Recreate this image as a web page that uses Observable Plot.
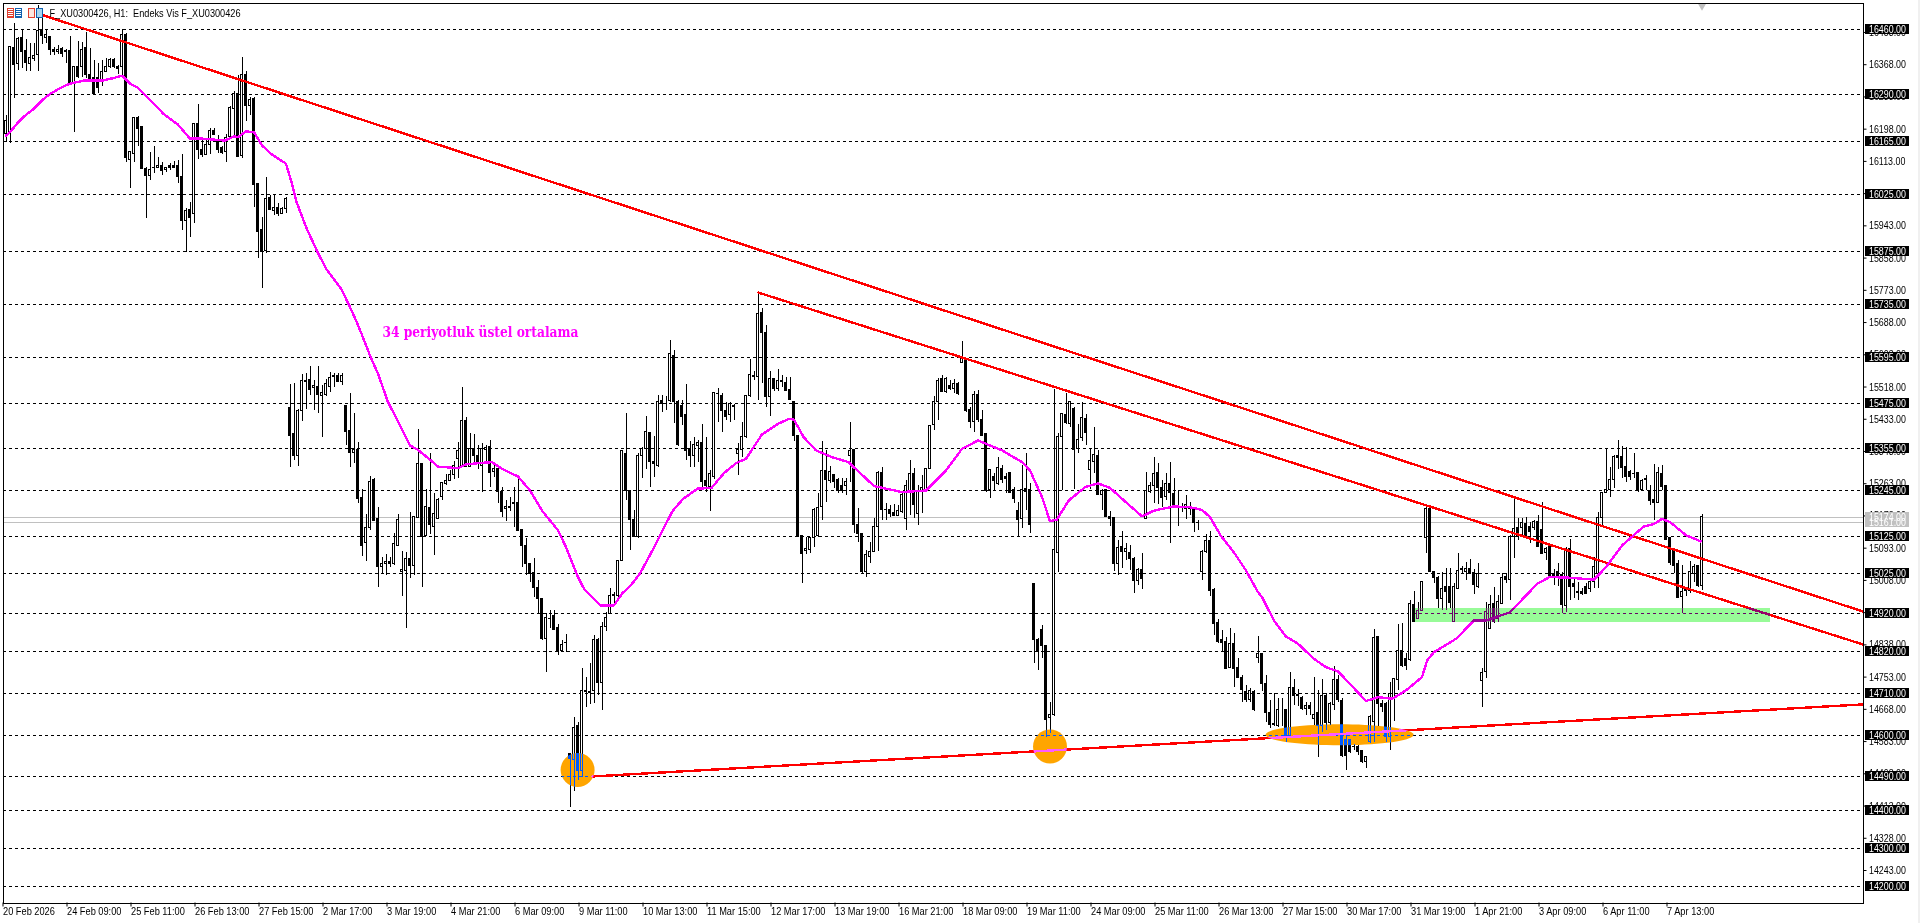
<!DOCTYPE html>
<html><head><meta charset="utf-8">
<script src="https://cdn.jsdelivr.net/npm/d3@7"></script>
<script src="https://cdn.jsdelivr.net/npm/@observablehq/plot@0.6"></script>
<style>
html,body{margin:0;padding:0;background:#f0f0f0;overflow:hidden}
#chart{position:relative;width:1918px;height:923px}
#chart svg{display:block}
.ico{position:absolute;top:8px;height:10px;box-sizing:border-box}
</style></head><body>
<div id="chart">
<div class="ico" style="left:7px;width:7px;border:1px solid #e04030;background:repeating-linear-gradient(#fff 0 1px,#e04030 1px 2px)"></div>
<div class="ico" style="left:15px;width:7px;border:1px solid #1060b0;background:repeating-linear-gradient(#fff 0 1px,#1060b0 1px 2px)"></div>
<div class="ico" style="left:28px;width:7px;border:1px solid #e04030;background:#fde8e0"></div>
<div class="ico" style="left:36px;width:7px;border:1px solid #1060b0;background:#a8d8f0"></div>
</div>
<script>
// Each bar is [open, high, low, close]
const barsA = [
[16186,16234,16164,16219],[16186,16416,16161,16414],[16412,16476,16280,16366],[16370,16439,16353,16436],[16439,16460,16357,16401],
[16405,16434,16351,16372],[16370,16423,16351,16386],[16384,16423,16377,16392],[16394,16525,16351,16456],[16458,16490,16420,16444],
[16439,16458,16423,16445],[16441,16442,16392,16408],[16408,16414,16392,16401],[16401,16419,16395,16407],[16410,16414,16388,16397],
[16405,16407,16372,16401],[16403,16442,16318,16318],[16318,16363,16190,16363],[16363,16430,16331,16335],[16362,16427,16335,16407],
[16412,16454,16331,16340],[16342,16410,16326,16330],[16333,16379,16291,16291],[16333,16370,16293,16307],[16325,16379,16311,16349],
[16349,16384,16349,16363],[16362,16384,16357,16381],[16381,16384,16357,16362],[16363,16366,16342,16357],[16363,16460,16340,16445],
[16445,16451,16111,16122],[16116,16137,16041,16137],[16133,16230,16111,16228],[16228,16231,16151,16199],[16203,16203,16093,16093],
[16092,16098,15962,16074],[16074,16137,16063,16089],[16095,16152,16080,16096],[16095,16124,16093,16100],[16102,16111,16076,16087],
[16089,16098,16085,16096],[16102,16108,16089,16095],[16102,16114,16093,16095],[16100,16115,16056,16071],[16073,16131,15931,15955],
[15957,15988,15874,15982],[15985,16005,15913,15964],[15973,16212,15950,16212],[16212,16263,16117,16142],[16144,16170,16122,16131],
[16131,16168,16131,16155],[16155,16199,16131,16193],[16193,16201,16181,16183],[16170,16181,16133,16144],[16148,16151,16131,16135],
[16137,16184,16111,16175],[16177,16258,16177,16253],[16250,16296,16177,16291],[16291,16339,16122,16124],[16127,16386,16120,16340],
[16342,16351,16217,16260],[16258,16282,16234,16275],[16278,16282,15992,16050],[16054,16054,15856,15926],[15931,15966,15777,15874],
[15878,16071,15869,16014],[16017,16023,15983,15985],[15982,16023,15970,15991],[15991,16003,15968,15973],[15975,15992,15973,15988],
[15988,16019,15975,16014]];
const barsB = [
[15463,15525,15307,15390],[15393,15526,15324,15335],[15335,15460,15308,15456],[15456,15551,15428,15533],[15535,15553,15460,15531],
[15537,15572,15495,15510],[15516,15535,15456,15522],[15519,15572,15449,15498],[15494,15522,15384,15503],[15498,15537,15494,15525],
[15519,15557,15504,15542],[15546,15554,15518,15544],[15547,15553,15529,15531],[15531,15553,15522,15548],[15467,15467,15364,15399],
[15401,15500,15305,15344],[15344,15449,15315,15351],[15351,15372,15210,15223],[15226,15247,15071,15100],[15107,15182,15059,15147],
[15147,15282,15140,15267],[15273,15276,15164,15164],[15170,15201,14990,15043],[15043,15069,15025,15052],[15050,15076,15021,15056],
[15056,15069,15041,15050],[15050,15131,15047,15103],[15100,15182,15097,15166],[15030,15084,14966,15036],[15034,15082,14880,15065],
[15065,15188,15012,15047],[15047,15176,15021,15176],[15173,15406,15170,15315],[15315,15315,14990,15122],[15126,15249,15124,15201],
[15199,15344,15129,15155],[15150,15236,15074,15182],[15170,15223,15168,15220],[15227,15267,15219,15264],[15261,15287,15258,15270],
[15271,15298,15270,15285],[15285,15322,15273,15311],[15329,15372,15276,15349],[15307,15516,15307,15428],[15428,15438,15307,15307],
[15307,15396,15305,15355],[15355,15393,15315,15337],[15337,15364,15300,15320],[15311,15368,15241,15355],[15353,15364,15315,15357],
[15359,15377,15254,15291],[15294,15320,15280,15302],[15302,15302,15212,15241],[15242,15254,15175,15188],[15196,15219,15164,15201],
[15201,15226,15190,15200],[15212,15252,15148,15210],[15212,15285,15138,15138],[15140,15140,15043,15100],[15100,15118,15021,15052],
[15052,15052,15003,15025],[15028,15065,14964,14988],[14988,15008,14920,14959],[14959,14959,14850,14854],[14854,14920,14766,14909],
[14907,14929,14880,14906],[14913,14929,14876,14878],[14883,14892,14810,14823],[14823,14850,14819,14838],[14844,14865,14819,14842]];
const barsC = [
[14551,14551,14410,14536],[14535,14647,14452,14619],[14623,14634,14480,14505],[14505,14777,14489,14716],[14717,14751,14672,14715],
[14713,14788,14682,14712],[14716,14863,14684,14851],[14851,14854,14704,14737],[14737,14896,14665,14885],[14885,14924,14874,14909],
[14920,14986,14918,14968],[14970,14977,14940,14967],[14968,15059,14955,15059],[15059,15350,15059,15350],[15342,15449,15219,15243],
[15243,15243,15087,15166],[15168,15192,15122,15122],[15122,15342,15118,15337],[15336,15359,15276,15355],[15355,15440,15300,15399],
[15397,15397,15254,15320],[15320,15388,15280,15316],[15311,15496,15307,15478],[15481,15496,15452,15474],[15485,15493,15456,15485],
[15481,15641,15478,15606],[15599,15614,15421,15478],[15478,15483,15360,15364],[15467,15483,15417,15440],[15443,15525,15324,15349],
[15351,15375,15307,15337],[15337,15386,15307,15364],[15362,15377,15320,15370],[15371,15419,15245,15267],[15269,15386,15241,15256],
[15254,15298,15191,15289],[15280,15503,15275,15503],[15500,15513,15425,15499],[15493,15500,15399,15454],[15456,15478,15430,15440],
[15443,15478,15425,15472],[15469,15472,15430,15465],[15342,15368,15285,15351],[15351,15425,15333,15386],[15386,15493,15381,15493],
[15493,15590,15491,15550],[15548,15560,15535,15544],[15544,15766,15483,15711],[15714,15724,15527,15660],[15661,15680,15465,15491],
[15491,15560,15439,15540],[15540,15540,15505,15513],[15513,15563,15505,15535],[15533,15548,15518,15532],[15529,15544,15505,15507],
[15511,15544,15483,15484],[15478,15478,15375,15388],[15388,15388,15122,15126],[15126,15126,15001,15078],[15085,15122,15076,15091],
[15087,15122,15078,15120],[15120,15197,15096,15195],[15124,15236,15122,15199],[15201,15375,15166,15296],[15296,15351,15214,15272],
[15270,15309,15263,15294],[15285,15285,15250,15267],[15273,15276,15236,15245],[15258,15276,15236,15245],[15256,15276,15232,15267]];
const barsD = [
[15335,15425,15267,15349],[15351,15351,15131,15153],[15155,15197,15109,15131],[15131,15131,15025,15030],[15030,15087,15015,15074],
[15071,15109,15052,15083],[15083,15170,15083,15150],[15148,15294,15083,15292],[15292,15307,15166,15194],[15194,15210,15166,15193],
[15194,15206,15175,15184],[15186,15208,15179,15179],[15179,15206,15177,15192],[15188,15236,15184,15232],[15170,15272,15140,15256],
[15241,15324,15179,15289],[15289,15302,15170,15208],[15182,15258,15153,15243],[15243,15285,15184,15252],[15243,15302,15241,15302],
[15302,15417,15302,15415],[15417,15494,15403,15478],[15478,15540,15430,15535],[15540,15548,15503,15505],[15505,15544,15500,15540],
[15522,15535,15509,15513],[15513,15537,15500,15525],[15525,15531,15496,15500],[15581,15639,15579,15592],[15592,15592,15452,15456],
[15458,15465,15408,15425],[15425,15506,15399,15496],[15497,15509,15425,15430],[15432,15456,15390,15390],[15393,15395,15241,15243],
[15247,15300,15223,15300],[15280,15290,15245,15270],[15263,15333,15258,15305],[15302,15311,15263,15272],[15280,15289,15236,15276],
[15291,15291,15237,15239],[15247,15254,15210,15223],[15190,15214,15120,15166],[15171,15311,15144,15247],[15250,15342,15192,15241],
[15247,15263,15131,15153],[14999,14999,14790,14850],[14850,14855,14770,14820],[14878,14889,14801,14836],[14836,14836,14595,14639],
[14646,14687,14603,14654],[14652,15512,14648,15087],[15080,15395,15030,15386],[15386,15449,15245,15446],[15443,15501,15420,15423],
[15421,15481,15412,15478],[15461,15463,15249,15351],[15355,15418,15342,15379],[15384,15476,15375,15435],[15434,15445,15364,15397],
[15300,15355,15249,15322],[15320,15410,15289,15339],[15337,15351,15232,15232],[15234,15247,15192,15245],[15247,15247,15173,15175],
[15175,15190,15150,15170],[15173,15175,15032,15052],[15052,15113,15021,15094],[15096,15138,15039,15083],[15083,15106,15061,15091],
[15080,15100,15034,15065],[15065,15069,14973,15006],[15006,15039,14995,15036],[15036,15080,14983,15012]];
const barsE = [
[15170,15293,15168,15243],[15241,15267,15237,15258],[15258,15333,15210,15289],[15292,15315,15208,15252],[15252,15271,15201,15226],
[15228,15289,15219,15263],[15263,15320,15106,15238],[15235,15276,15201,15206],[15202,15245,15150,15201],[15202,15210,15188,15201],
[15197,15232,15168,15206],[15201,15214,15179,15197],[15197,15201,15135,15159],[15160,15166,15140,15159],[15030,15087,15008,15084],
[15082,15129,15080,15111],[15113,15137,14966,14980],[14983,14986,14863,14892],[14895,14904,14841,14845],[14850,14876,14819,14843],
[14845,14858,14775,14775],[14777,14880,14775,14841],[14841,14867,14725,14775],[14778,14801,14751,14751],[14751,14757,14687,14718],
[14713,14731,14687,14693],[14693,14722,14687,14716],[14715,14718,14661,14665],[14804,14860,14788,14814],[14814,14816,14716,14735],
[14735,14757,14634,14659],[14659,14691,14617,14628],[14630,14711,14623,14628],[14625,14696,14621,14667],[14667,14696,14623,14667],
[14665,14665,14581,14599],[14599,14766,14599,14725],[14725,14746,14678,14702],[14706,14720,14676,14703],[14698,14702,14665,14668],
[14668,14687,14652,14678],[14678,14687,14652,14668],[14643,14751,14625,14654],[14659,14718,14540,14625],[14625,14746,14608,14702],
[14704,14709,14612,14632],[14632,14687,14625,14681],[14679,14782,14665,14746],[14746,14757,14687,14693],[14691,14696,14540,14546],
[14586,14600,14507,14546],[14586,14586,14551,14555],[14570,14575,14560,14569],[14570,14573,14546,14555],[14558,14560,14526,14529],
[14529,14542,14511,14542],[14582,14652,14577,14647],[14634,14878,14580,14857],[14858,14860,14623,14683],[14683,14690,14660,14675],
[14682,14687,14581,14595],[14595,14740,14560,14709],[14696,14749,14637,14749],[14746,14893,14718,14821],[14823,14895,14779,14781],
[14801,14815,14770,14781],[14797,14955,14795,14945],[14942,14978,14898,14898],[14907,14950,14905,14927],[14927,15003,14925,15003]];
const barsF = [
[15120,15201,15078,15197],[15197,15201,15030,15030],[15030,15030,15000,15015],[15015,15017,14933,14959],[14959,15030,14929,14986],
[14990,15040,14929,14977],[14990,15040,14933,14948],[14898,14999,14898,14990],[14986,15078,14986,15034],[15035,15045,15024,15037],
[15030,15056,15008,15039],[15039,15062,15024,15025],[15027,15036,14971,14997],[14990,15052,14986,15025],[14742,14775,14674,14763],
[14766,14950,14749,14924],[14880,14968,14880,14942],[14946,14990,14895,14898],[14907,14968,14898,14951],[14946,15025,14946,15015],
[15017,15027,14999,15008],[15008,15126,14955,15122],[15122,15226,15065,15144],[15147,15170,15113,15122],[15147,15170,15122,15159],
[15157,15173,15120,15122],[15150,15162,15105,15135],[15147,15166,15140,15162],[15163,15179,15096,15096],[15140,15214,15076,15078],
[15080,15096,15060,15091],[15100,15100,15012,15017],[15025,15038,14995,15017],[15030,15052,14992,15017],[15021,15030,14920,14942],
[14940,15096,14924,15091],[15091,15115,14955,14990],[14999,15010,14960,14990],[14977,15003,14955,14976],[14977,14986,14968,14971],
[14990,14999,14971,14973],[14986,15008,14977,15003],[15003,15069,14986,15043],[15024,15188,14986,15173],[15173,15241,15150,15238],
[15238,15355,15236,15247],[15247,15307,15226,15273],[15273,15337,15250,15333],[15337,15377,15300,15332],[15333,15361,15276,15305],
[15308,15359,15265,15280],[15293,15298,15272,15280],[15289,15342,15276,15288],[15291,15293,15241,15247],[15247,15273,15243,15271],
[15272,15285,15245,15276],[15245,15258,15206,15217],[15219,15314,15166,15212],[15212,15305,15210,15291],[15289,15311,15245,15254],
[15256,15258,15113,15115],[15120,15122,15047,15054],[15087,15091,15025,15047],[15050,15060,14959,14962],[14964,15047,14920,14977],
[14985,14990,14966,14980],[14981,15059,14973,15030],[15025,15050,15003,15043],[15045,15047,14990,14993],[14993,15182,14981,15174]];

// 34-period exponential average: [bar, value]
const emaLine = [
[0,16181],[1,16190],[3,16216],[5,16236],[7,16252],[9,16274],[11,16291],[14,16309],[16,16318],[19.5,16326],[24,16326],[27,16333],[29,16339],[31,16318],[33,16307],[37,16265],[39.4,16238],[43,16210],[46,16173],[49,16173],[54.7,16168],[57,16179],[58,16177],[60,16192],[62,16190],[64,16155],[66.5,16131],[70,16107],[71.5,16054],[72.5,16010],[75,15940],[77.7,15878],[80,15830],[83.8,15777],[85.8,15733],[87.5,15694],[88.9,15658],[91,15601],[93,15553],[95.5,15478],[97.5,15438],[101,15364],[103,15352],[105.7,15329],[108,15308],[113,15304],[115,15314],[118,15317],[121.5,15320],[124,15302],[128,15282],[131,15245],[134,15192],[138,15140],[140,15096],[143,15017],[144.5,14986],[148.6,14942],[152,14942],[154,14973],[156.5,14999],[158.6,15028],[161.6,15087],[163.7,15131],[166.7,15192],[169.3,15223],[172.9,15250],[176.4,15252],[179.5,15291],[182.5,15317],[185,15329],[189,15393],[193,15421],[195.8,15434],[197,15432],[199.4,15386],[202.5,15351],[206.5,15333],[210.6,15320],[217,15257],[223.9,15241],[230,15245],[235,15298],[239,15355],[243,15377],[249,15351],[254,15320],[256,15298],[259,15228],[261,15164],[262.7,15168],[265.7,15219],[269.8,15254],[273,15264],[276,15252],[280,15214],[284,15177],[287,15192],[291.9,15203],[296,15201],[299,15194],[301,15175],[303.7,15126],[306.9,15083],[310,15034],[313,14977],[314,14964],[317,14902],[320,14860],[323,14841],[327,14801],[330,14779],[333,14768],[336,14735],[340,14690],[343,14700],[346.6,14696],[350,14718],[354,14753],[355.3,14797],[357,14819],[362.5,14854],[367,14902],[370,14902],[376,14924],[382.8,14999],[385.9,15017],[391,15015],[397,15010],[400,15043],[404,15100],[409.4,15150],[412,15157],[414,15170],[416,15162],[420,15127],[423.7,15111]];

const trendUpper = [[9.4,16498],[464.25,14926]];
const trendLower = [[188.1,15767],[464.25,14839]];
const trendRising = [[146.6,14491],[464.25,14681]];

const levelValues = [16460,16290,16165,16025,15875,15735,15595,15475,15355,15245,15125,15025,14920,14820,14710,14600,14490,14400,14300,14200];
const priceLineValues = [15174,15161];
const yTickValues = [16453,16368,16283,16198,16113,16028,15943,15858,15773,15688,15603,15518,15433,15348,15263,15178,15093,15008,14923,14838,14753,14668,14583,14498,14413,14328,14243];
const xTickLabels = ["20 Feb 2026","24 Feb 09:00","25 Feb 11:00","26 Feb 13:00","27 Feb 15:00","2 Mar 17:00","3 Mar 19:00","4 Mar 21:00","6 Mar 09:00","9 Mar 11:00","10 Mar 13:00","11 Mar 15:00","12 Mar 17:00","13 Mar 19:00","16 Mar 21:00","18 Mar 09:00","19 Mar 11:00","24 Mar 09:00","25 Mar 11:00","26 Mar 13:00","27 Mar 15:00","30 Mar 17:00","31 Mar 19:00","1 Apr 21:00","3 Apr 09:00","6 Apr 11:00","7 Apr 13:00"];
const circleSpots = [[142.9,14508],[261,14570]];
const ellipseSpot = [[333.4,14601]];
const greenZone = [{x1:352.4,x2:441.1,y1:14897,y2:14934}];

const bars = [...barsA,...barsB,...barsC,...barsD,...barsE,...barsF].map(([o,h,l,c],i)=>({i,o,h,l,c}));
const xTicks = xTickLabels.map((_,k)=>16*k-1);
const crisp = {shapeRendering:"crispEdges"};
const labelX1 = 464.9, labelX2 = 475.9, labelHalf = 13.2;
const ellipseSymbol = {draw(ctx){
  for(let k=0;k<72;k++){const t=k/72*2*Math.PI,x=74*Math.cos(t),y=10.5*Math.sin(t);
    k?ctx.lineTo(x,y):ctx.moveTo(x,y);}
  ctx.closePath();
}};
const labelFont = "'Liberation Sans',sans-serif";

const chart = Plot.plot({
  width:1918, height:923,
  marginLeft:2.5, marginRight:55.5, marginTop:2.5, marginBottom:20.5,
  style:{fontFamily:labelFont,fontSize:"11px",background:"white",color:"black"},
  x:{type:"linear",domain:[-0.75,464.25]},
  y:{type:"linear",domain:[14157.3,16530.7]},
  marks:[
    Plot.frame({fill:"white",stroke:"none"}),
    Plot.ruleY(levelValues,{stroke:"black",strokeWidth:1,strokeDasharray:"3,3",...crisp}),
    Plot.ruleY(priceLineValues,{stroke:"#c0c0c0",strokeWidth:1,...crisp}),
    Plot.ruleX(bars,{x:"i",y1:"l",y2:"h",stroke:"black",strokeWidth:1,...crisp}),
    Plot.rect(bars.filter(d=>d.c<d.o),{x1:d=>d.i-0.25,x2:d=>d.i+0.25,y1:"o",y2:"c",fill:"black",stroke:"black",strokeWidth:1,...crisp}),
    Plot.rect(bars.filter(d=>d.c>=d.o),{x1:d=>d.i-0.25,x2:d=>d.i+0.25,y1:"o",y2:"c",fill:"white",stroke:"black",strokeWidth:1,...crisp}),
    Plot.line(trendUpper,{x:"0",y:"1",stroke:"#ff0000",strokeWidth:2.4,...crisp}),
    Plot.line(trendLower,{x:"0",y:"1",stroke:"#ff0000",strokeWidth:2.4,...crisp}),
    Plot.line(trendRising,{x:"0",y:"1",stroke:"#ff0000",strokeWidth:2.4,...crisp}),
    Plot.line(emaLine,{x:"0",y:"1",stroke:"#ff00ff",strokeWidth:2.4,...crisp}),
    Plot.rect(greenZone,{x1:"x1",x2:"x2",y1:"y1",y2:"y2",fill:"#670467",mixBlendMode:"difference",...crisp}),
    Plot.dot(circleSpots,{x:"0",y:"1",r:17,fill:"#005aff",stroke:"none",mixBlendMode:"difference"}),
    Plot.dot(ellipseSpot,{x:"0",y:"1",symbol:ellipseSymbol,r:10,fill:"#005aff",stroke:"none",mixBlendMode:"difference"}),
    Plot.text(["34 periyotluk üstel ortalama"],{x:94.1,y:15662,text:d=>d,textAnchor:"start",fill:"#ff00ff",fontFamily:"'DejaVu Serif',serif",fontWeight:"bold",fontSize:14}),
    Plot.text(["F_XU0300426, H1:  Endeks Vis F_XU0300426"],{frameAnchor:"top-left",dx:46.5,dy:6,text:d=>d,fill:"black",fontSize:11,lineAnchor:"top"}),
    Plot.dot([424],{x:d=>d,frameAnchor:"top",dy:3,symbol:"triangle",rotate:180,r:3,fill:"#c0c0c0",stroke:"none"}),
    Plot.axisY({anchor:"right",ticks:yTickValues,tickSize:3,tickPadding:3,tickFormat:d=>d.toFixed(2),label:null,fontSize:11}),
    Plot.axisX({anchor:"bottom",ticks:xTicks,tickSize:4,tickPadding:0,tickFormat:d=>xTickLabels[(d+1)/16],label:null,textAnchor:"start",dx:1,fontSize:11}),
    Plot.rect(priceLineValues,{x1:labelX1,x2:labelX2,y1:d=>d-labelHalf,y2:d=>d+labelHalf,fill:"#c0c0c0",...crisp}),
    Plot.text(priceLineValues,{x:465.75,y:d=>d,text:d=>d.toFixed(2),textAnchor:"start",fill:"white",fontSize:11}),
    Plot.rect(levelValues,{x1:labelX1,x2:labelX2,y1:d=>d-labelHalf,y2:d=>d+labelHalf,fill:"black",...crisp}),
    Plot.text(levelValues,{x:465.75,y:d=>d,text:d=>d.toFixed(2),textAnchor:"start",fill:"white",fontSize:11}),
    Plot.frame({stroke:"black",strokeWidth:1,...crisp})
  ]
});
document.getElementById("chart").prepend(chart);
chart.style.maxWidth="none";
// The reference's labels are horizontally condensed: squeeze the glyphs to the measured widths.
chart.querySelectorAll("text").forEach(t=>{
  const s=t.textContent, len=t.getComputedTextLength();
  if(!len) return;
  let w;
  if(s.startsWith("F_XU")) w=191;
  else if(s.startsWith("34 peri")) w=196;
  else if(/^\d+\.00$/.test(s)) w=len*0.806;
  else w=len*0.84;
  t.setAttribute("textLength",w);
  t.setAttribute("lengthAdjust","spacingAndGlyphs");
});
</script>
</body></html>
